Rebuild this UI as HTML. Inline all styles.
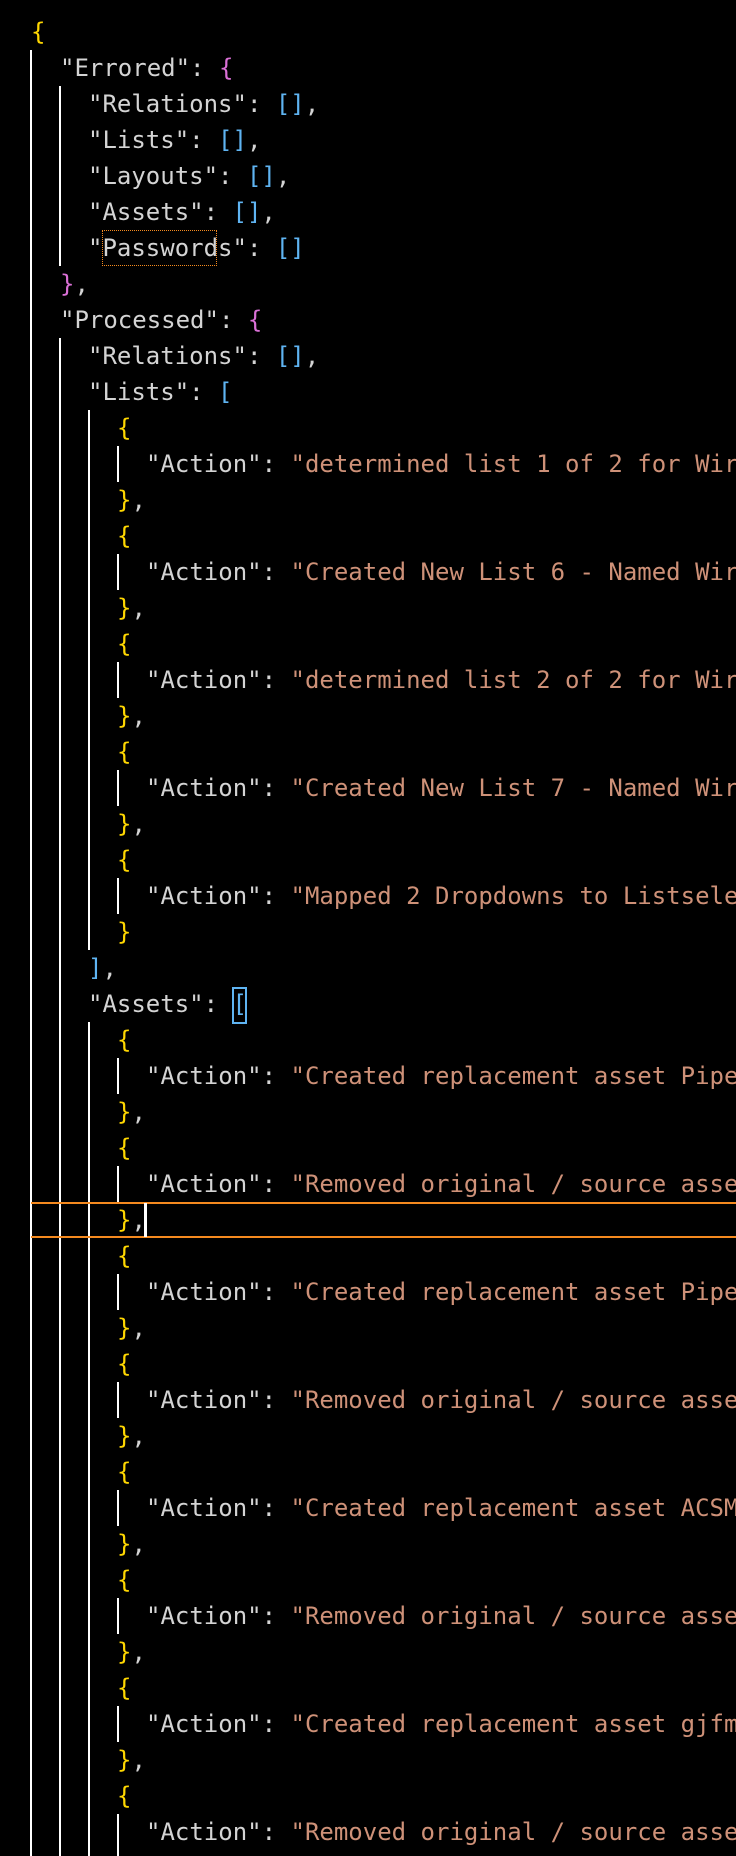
<!DOCTYPE html>
<html><head><meta charset="utf-8"><style>
html,body{margin:0;padding:0;background:#000;width:736px;height:1856px;overflow:hidden;position:relative}
.l{position:absolute;height:36px;line-height:37px;font-family:"DejaVu Sans Mono","Liberation Mono",monospace;font-size:24px;white-space:pre;color:#d4d4d4;right:0;overflow:hidden}
.k{color:#d4d4d4}.s{color:#ce9178}.y{color:#ffd700}.p{color:#da70d6}.b{color:#5fb4f2}
.g{position:absolute;width:2px;background:#fff}
.h{position:absolute;left:31px;right:0;height:2px;background:#f58a1f}
</style></head><body>
<div class="g" style="left:30px;top:50px;height:1806px"></div>
<div class="g" style="left:59px;top:86px;height:180px"></div>
<div class="g" style="left:59px;top:338px;height:1518px"></div>
<div class="g" style="left:88px;top:410px;height:540px"></div>
<div class="g" style="left:88px;top:1022px;height:834px"></div>
<div class="g" style="left:117px;top:446px;height:36px"></div>
<div class="g" style="left:117px;top:554px;height:36px"></div>
<div class="g" style="left:117px;top:662px;height:36px"></div>
<div class="g" style="left:117px;top:770px;height:36px"></div>
<div class="g" style="left:117px;top:878px;height:36px"></div>
<div class="g" style="left:117px;top:1058px;height:36px"></div>
<div class="g" style="left:117px;top:1166px;height:36px"></div>
<div class="g" style="left:117px;top:1274px;height:36px"></div>
<div class="g" style="left:117px;top:1382px;height:36px"></div>
<div class="g" style="left:117px;top:1490px;height:36px"></div>
<div class="g" style="left:117px;top:1598px;height:36px"></div>
<div class="g" style="left:117px;top:1706px;height:36px"></div>
<div class="g" style="left:117px;top:1814px;height:42px"></div>
<div class="h" style="top:1202px"></div>
<div class="h" style="top:1236px"></div>
<div style="position:absolute;left:144px;top:1203px;width:3px;height:34px;background:#fff"></div>
<div style="position:absolute;left:102px;top:230px;width:113px;height:34px;border:1px dotted #f58a1f"></div>
<div style="position:absolute;left:232px;top:987px;width:11px;height:33px;border:2px solid #5fb4f2"></div>
<div class="l" style="top:14px;left:31px"><span class="y">{</span></div>
<div class="l" style="top:50px;left:60px">"Errored": <span class="p">{</span></div>
<div class="l" style="top:86px;left:88px">"Relations": <span class="b">[]</span>,</div>
<div class="l" style="top:122px;left:88px">"Lists": <span class="b">[]</span>,</div>
<div class="l" style="top:158px;left:88px">"Layouts": <span class="b">[]</span>,</div>
<div class="l" style="top:194px;left:88px">"Assets": <span class="b">[]</span>,</div>
<div class="l" style="top:230px;left:88px">"Passwords": <span class="b">[]</span></div>
<div class="l" style="top:266px;left:60px"><span class="p">}</span>,</div>
<div class="l" style="top:302px;left:60px">"Processed": <span class="p">{</span></div>
<div class="l" style="top:338px;left:88px">"Relations": <span class="b">[]</span>,</div>
<div class="l" style="top:374px;left:88px">"Lists": <span class="b">[</span></div>
<div class="l" style="top:410px;left:117px"><span class="y">{</span></div>
<div class="l" style="top:446px;left:146px">"Action": <span class="s">"determined list 1 of 2 for Wireless"</span></div>
<div class="l" style="top:482px;left:117px"><span class="y">}</span>,</div>
<div class="l" style="top:518px;left:117px"><span class="y">{</span></div>
<div class="l" style="top:554px;left:146px">"Action": <span class="s">"Created New List 6 - Named Wireless"</span></div>
<div class="l" style="top:590px;left:117px"><span class="y">}</span>,</div>
<div class="l" style="top:626px;left:117px"><span class="y">{</span></div>
<div class="l" style="top:662px;left:146px">"Action": <span class="s">"determined list 2 of 2 for Wireless"</span></div>
<div class="l" style="top:698px;left:117px"><span class="y">}</span>,</div>
<div class="l" style="top:734px;left:117px"><span class="y">{</span></div>
<div class="l" style="top:770px;left:146px">"Action": <span class="s">"Created New List 7 - Named Wireless"</span></div>
<div class="l" style="top:806px;left:117px"><span class="y">}</span>,</div>
<div class="l" style="top:842px;left:117px"><span class="y">{</span></div>
<div class="l" style="top:878px;left:146px">"Action": <span class="s">"Mapped 2 Dropdowns to Listselect"</span></div>
<div class="l" style="top:914px;left:117px"><span class="y">}</span></div>
<div class="l" style="top:950px;left:88px"><span class="b">]</span>,</div>
<div class="l" style="top:986px;left:88px">"Assets": <span class="b">[</span></div>
<div class="l" style="top:1022px;left:117px"><span class="y">{</span></div>
<div class="l" style="top:1058px;left:146px">"Action": <span class="s">"Created replacement asset Pipe"</span></div>
<div class="l" style="top:1094px;left:117px"><span class="y">}</span>,</div>
<div class="l" style="top:1130px;left:117px"><span class="y">{</span></div>
<div class="l" style="top:1166px;left:146px">"Action": <span class="s">"Removed original / source asset"</span></div>
<div class="l" style="top:1202px;left:117px"><span class="y">}</span>,</div>
<div class="l" style="top:1238px;left:117px"><span class="y">{</span></div>
<div class="l" style="top:1274px;left:146px">"Action": <span class="s">"Created replacement asset Pipe"</span></div>
<div class="l" style="top:1310px;left:117px"><span class="y">}</span>,</div>
<div class="l" style="top:1346px;left:117px"><span class="y">{</span></div>
<div class="l" style="top:1382px;left:146px">"Action": <span class="s">"Removed original / source asset"</span></div>
<div class="l" style="top:1418px;left:117px"><span class="y">}</span>,</div>
<div class="l" style="top:1454px;left:117px"><span class="y">{</span></div>
<div class="l" style="top:1490px;left:146px">"Action": <span class="s">"Created replacement asset ACSM"</span></div>
<div class="l" style="top:1526px;left:117px"><span class="y">}</span>,</div>
<div class="l" style="top:1562px;left:117px"><span class="y">{</span></div>
<div class="l" style="top:1598px;left:146px">"Action": <span class="s">"Removed original / source asset"</span></div>
<div class="l" style="top:1634px;left:117px"><span class="y">}</span>,</div>
<div class="l" style="top:1670px;left:117px"><span class="y">{</span></div>
<div class="l" style="top:1706px;left:146px">"Action": <span class="s">"Created replacement asset gjfm"</span></div>
<div class="l" style="top:1742px;left:117px"><span class="y">}</span>,</div>
<div class="l" style="top:1778px;left:117px"><span class="y">{</span></div>
<div class="l" style="top:1814px;left:146px">"Action": <span class="s">"Removed original / source asset"</span></div>
</body></html>
